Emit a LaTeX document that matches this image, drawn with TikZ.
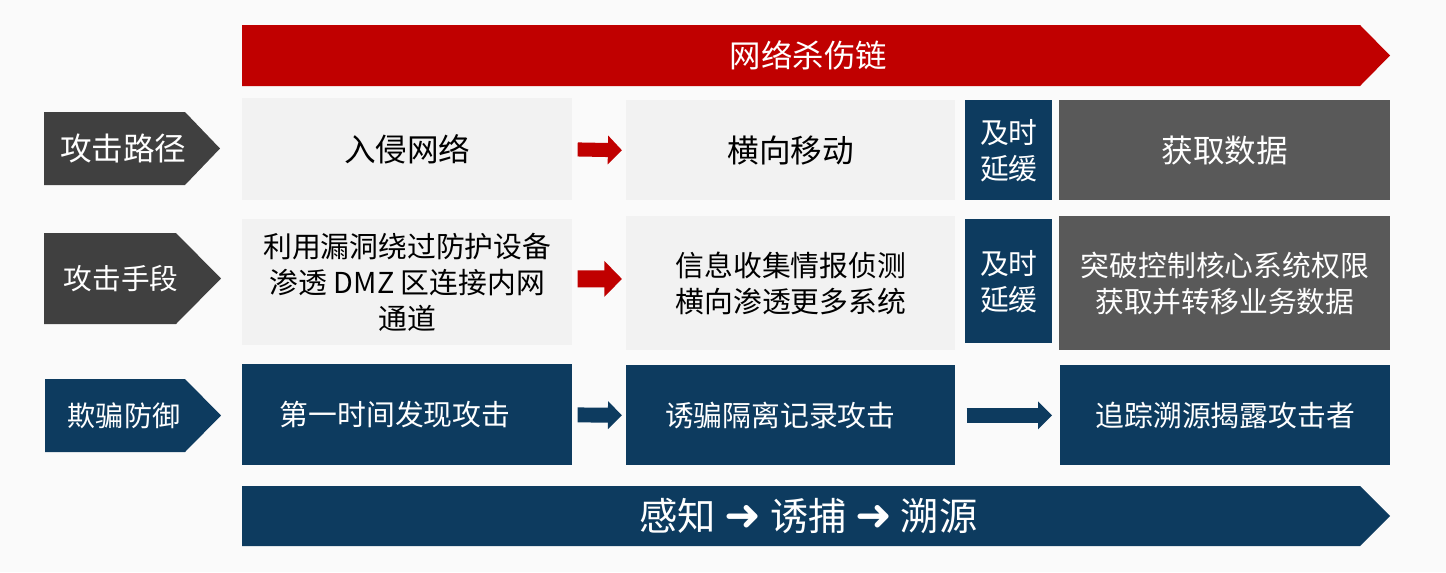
\documentclass[tikz,border=0pt]{standalone}
\usepackage{fontspec}
\setmainfont{Noto Sans CJK SC}
\newfontfamily\arrowfont{DejaVu Sans}
\usetikzlibrary{arrows.meta,positioning,calc}
\definecolor{Backdrop}{HTML}{FAFAFA}
\definecolor{KillRed}{HTML}{C00000}
\definecolor{DeepNavy}{HTML}{0D3B5F}
\definecolor{Slate}{HTML}{404040}
\definecolor{Graphite}{HTML}{595959}
\definecolor{Mist}{HTML}{F2F2F2}

\begin{document}
\begin{tikzpicture}[x=0.02cm,y=-0.02cm,every node/.style={inner sep=0pt,align=center},big/.style={font=\fontsize{18}{22}\selectfont},mid/.style={font=\fontsize{16.4}{20.6}\selectfont},lightbox/.style={fill=Mist,text=black},navybox/.style={fill=DeepNavy,text=white},graybox/.style={fill=Graphite,text=white},redarrow/.style={draw=KillRed,line width=8pt,-{Triangle[length=8pt,width=16pt]},shorten <=2.8pt,shorten >=2.3pt},navyarrow/.style={draw=DeepNavy,line width=8.5pt,-{Triangle[length=8pt,width=15.5pt]}}]
\fill[Backdrop] (0,0) rectangle (1446,572);
\newcommand{\chevronbar}[8]{\fill[#7] (#2,#3) -- (#4,#3) -- ({#4+#6},{(#3+#5)/2}) -- (#4,#5) -- (#2,#5) -- cycle;\node[text=white] (#1) at ({(#2+#4)/2+#6/4},{(#3+#5)/2}) {#8};}
\newcommand{\cellbox}[7]{\node[#6,minimum width={(#4-#2)*0.02cm},minimum height={(#5-#3)*0.02cm},anchor=north west] (#1) at (#2,#3) {#7};}
\newcommand{\fatarrow}{{\arrowfont\fontsize{25}{25}\selectfont ➜}}
% banners
\chevronbar{chain}{242}{25}{1360}{86}{30}{KillRed}{\fontsize{17.9}{20}\selectfont 网络杀伤链}
\chevronbar{flow}{242}{486}{1360}{546}{30}{DeepNavy}{\fontsize{21.8}{24}\selectfont 感知 \fatarrow{} 诱捕 \fatarrow{} 溯源}
% row labels
\chevronbar{route}{44}{112}{185}{185}{35}{Slate}{\fontsize{18}{22}\selectfont 攻击路径}
\chevronbar{means}{44}{233}{176}{324}{45}{Slate}{\fontsize{16.3}{20}\selectfont 攻击手段}
\chevronbar{decoy}{45}{379}{185}{452}{36}{DeepNavy}{\fontsize{16}{20}\selectfont 欺骗防御}
% attack path
\cellbox{intrude}{242}{98}{572}{200}{lightbox,big}{入侵网络}
\cellbox{lateral}{626}{100}{955}{200}{lightbox,big}{横向移动}
\cellbox{delayA}{965}{100}{1052}{200}{navybox,mid}{及时\\延缓}
\cellbox{steal}{1059}{100}{1390}{200}{graybox,big}{获取数据}
% attack means
\cellbox{exploit}{242}{219}{572}{345}{lightbox,mid}{利用漏洞绕过防护设备\\渗透 DMZ 区连接内网\\通道}
\cellbox{recon}{626}{216}{955}{350}{lightbox,mid}{信息收集情报侦测\\横向渗透更多系统}
\cellbox{delayB}{965}{219}{1052}{343}{navybox,mid}{及时\\延缓}
\cellbox{breach}{1059}{216}{1390}{350}{graybox,mid}{突破控制核心系统权限\\获取并转移业务数据}
% deception defence
\cellbox{detect}{242}{364}{572}{465}{navybox,mid}{\hspace*{-14pt}第一时间发现攻击}
\cellbox{trap}{626}{365}{955}{465}{navybox,mid}{\hspace*{-12pt}诱骗隔离记录攻击}
\cellbox{trace}{1060}{365}{1390}{465}{navybox,mid}{追踪溯源揭露攻击者}
% connectors
\draw[redarrow] (intrude.east) -- (lateral.west);
\draw[redarrow,line width=9.6pt,-{Triangle[length=10pt,width=19.8pt]}] ([yshift=2pt]exploit.east) -- ([yshift=2.5pt]recon.west);
\draw[navyarrow,shorten <=2.8pt,shorten >=2.3pt] (detect.east) -- (trap.west);
\draw[navyarrow,shorten <=6.2pt,shorten >=4.5pt] (trap.east) -- (trace.west);
\end{tikzpicture}
\end{document}
